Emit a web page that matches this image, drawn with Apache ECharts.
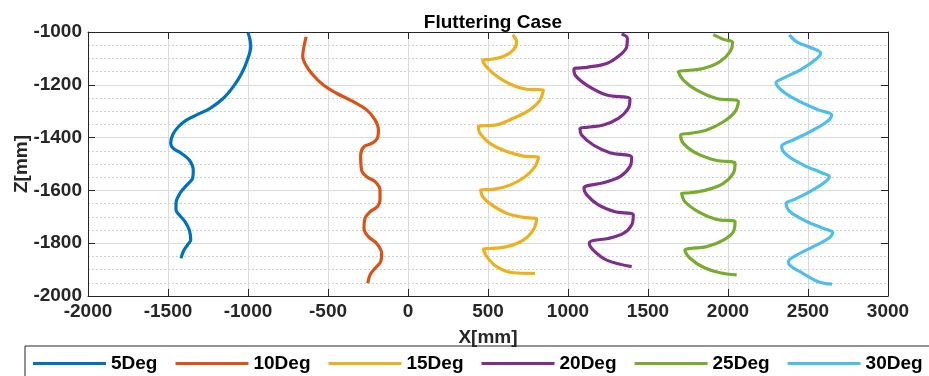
<!DOCTYPE html>
<html>
<head>
<meta charset="utf-8">
<script src="https://cdn.jsdelivr.net/npm/echarts@6/dist/echarts.min.js"></script>
<style>
html,body{margin:0;padding:0;background:#fff;}
#chart{width:929px;height:376px;}
</style>
</head>
<body>
<div id="chart"></div>
<script>
const seriesNames = ['5Deg','10Deg','15Deg','20Deg','25Deg','30Deg'];
const xRange = [-2000, 3000, 500];
const zRange = [-2000, -1000, 200];

const deg5 = [[-1000,-1003],[-987,-1030],[-983,-1056],[-1004,-1106],[-1040,-1157],[-1092,-1207],[-1154,-1251],[-1237,-1289],[-1321,-1314],[-1383,-1333],[-1435,-1359],[-1471,-1390],[-1483,-1422],[-1467,-1441],[-1415,-1460],[-1367,-1485],[-1342,-1523],[-1346,-1554],[-1383,-1580],[-1425,-1611],[-1450,-1649],[-1450,-1674],[-1429,-1693],[-1394,-1718],[-1367,-1750],[-1358,-1788],[-1371,-1801],[-1400,-1826],[-1419,-1857]];

const deg10 = [[-637,-1018],[-654,-1068],[-658,-1093],[-644,-1119],[-602,-1157],[-529,-1201],[-446,-1232],[-342,-1264],[-258,-1295],[-206,-1333],[-185,-1371],[-192,-1403],[-227,-1422],[-275,-1434],[-296,-1466],[-290,-1523],[-258,-1548],[-206,-1567],[-175,-1598],[-175,-1636],[-192,-1662],[-237,-1681],[-269,-1706],[-275,-1744],[-248,-1775],[-196,-1801],[-165,-1838],[-171,-1870],[-206,-1895],[-237,-1920],[-252,-1952]];

const deg15 = [[654,-1011],[679,-1037],[658,-1068],[596,-1093],[512,-1104],[467,-1106],[481,-1125],[533,-1157],[637,-1197],[742,-1217],[846,-1220],[825,-1258],[762,-1295],[658,-1327],[554,-1352],[440,-1359],[450,-1384],[512,-1422],[617,-1453],[721,-1470],[815,-1475],[794,-1510],[731,-1548],[637,-1580],[533,-1596],[454,-1598],[467,-1624],[523,-1655],[617,-1687],[721,-1702],[804,-1710],[783,-1750],[721,-1788],[617,-1813],[512,-1820],[471,-1822],[492,-1851],[554,-1889],[658,-1912],[794,-1914]];

const deg20 = [[1335,-1008],[1371,-1024],[1367,-1056],[1325,-1087],[1242,-1119],[1117,-1134],[1037,-1141],[1044,-1163],[1117,-1201],[1242,-1239],[1387,-1254],[1377,-1289],[1315,-1327],[1221,-1352],[1117,-1361],[1075,-1366],[1085,-1390],[1158,-1428],[1262,-1457],[1398,-1475],[1387,-1510],[1325,-1548],[1221,-1571],[1117,-1583],[1100,-1592],[1117,-1617],[1190,-1655],[1294,-1681],[1408,-1693],[1398,-1731],[1346,-1763],[1252,-1782],[1158,-1790],[1133,-1800],[1158,-1826],[1242,-1864],[1398,-1889]];

const deg25 = [[1908,-1010],[1971,-1028],[2029,-1040],[2013,-1074],[1950,-1112],[1846,-1138],[1742,-1146],[1690,-1150],[1721,-1182],[1804,-1220],[1929,-1252],[2065,-1264],[2044,-1302],[1971,-1340],[1867,-1371],[1763,-1384],[1704,-1390],[1721,-1422],[1804,-1460],[1929,-1487],[2044,-1497],[2033,-1535],[1971,-1573],[1867,-1598],[1763,-1609],[1710,-1611],[1731,-1643],[1815,-1681],[1929,-1710],[2044,-1719],[2033,-1757],[1971,-1788],[1867,-1813],[1763,-1820],[1731,-1826],[1763,-1857],[1846,-1891],[1950,-1912],[2054,-1920]];

const deg30 = [[2383,-1011],[2429,-1037],[2512,-1058],[2579,-1081],[2544,-1106],[2450,-1144],[2346,-1175],[2300,-1192],[2346,-1226],[2450,-1264],[2565,-1295],[2648,-1314],[2617,-1340],[2512,-1378],[2408,-1409],[2335,-1434],[2367,-1466],[2471,-1504],[2585,-1533],[2633,-1548],[2596,-1573],[2492,-1611],[2408,-1636],[2363,-1649],[2388,-1681],[2492,-1718],[2596,-1744],[2654,-1760],[2627,-1782],[2533,-1813],[2429,-1845],[2377,-1870],[2390,-1885],[2470,-1915],[2560,-1945],[2610,-1953],[2650,-1955]];

const allData = [deg5, deg10, deg15, deg20, deg25, deg30];
const colors = ['#0072BD','#D95319','#EDB120','#7E2F8E','#77AC30','#4DBEEE'];

const FONT = '"Liberation Sans", Arial, sans-serif';
const AX = '#262626';
const plainNum = function (v) { return String(v); };
const labelStyle = {color: AX, fontWeight: 'bold', fontSize: 19, fontFamily: FONT, formatter: plainNum};

const chart = echarts.init(document.getElementById('chart'), null, {renderer: 'canvas'});
chart.setOption({
  animation: false,
  backgroundColor: '#ffffff',
  color: colors,
  title: {
    text: 'Fluttering Case',
    left: 488, top: 8, textAlign: 'center',
    textStyle: {color: '#000', fontWeight: 'bold', fontSize: 19, fontFamily: FONT}
  },
  grid: {left: 88, right: 41, top: 32, bottom: 80, containLabel: false},
  legend: {
    data: seriesNames,
    left: 25, top: 346, width: 1100,
    orient: 'horizontal',
    icon: 'rect',
    itemWidth: 73, itemHeight: 3, itemGap: 18,
    borderColor: AX, borderWidth: 1, borderRadius: 0,
    padding: [8, 30, 20, 8],
    textStyle: {color: '#000', fontWeight: 'bold', fontSize: 19, fontFamily: FONT}
  },
  xAxis: [{
    type: 'value', min: xRange[0], max: xRange[1], interval: xRange[2],
    position: 'bottom',
    name: 'X[mm]', nameLocation: 'middle', nameGap: 32, nameMoveOverlap: false,
    nameTextStyle: {color: AX, fontWeight: 'bold', fontSize: 19, fontFamily: FONT},
    axisLine: {show: true, onZero: false, lineStyle: {color: AX, width: 1}},
    axisTick: {show: true, inside: true, length: 7, lineStyle: {color: AX}},
    axisLabel: Object.assign({margin: 6}, labelStyle),
    splitLine: {show: true, lineStyle: {color: '#dadada', width: 1}}
  }, {
    type: 'value', min: xRange[0], max: xRange[1], interval: xRange[2],
    position: 'top',
    axisLine: {show: true, onZero: false, lineStyle: {color: AX, width: 1}},
    axisTick: {show: true, inside: true, length: 7, lineStyle: {color: AX}},
    axisLabel: {show: false},
    splitLine: {show: false}
  }],
  yAxis: [{
    type: 'value', min: zRange[0], max: zRange[1], interval: zRange[2],
    position: 'left',
    name: 'Z[mm]', nameLocation: 'middle', nameGap: 57, nameRotate: 90, nameMoveOverlap: false,
    nameTextStyle: {color: AX, fontWeight: 'bold', fontSize: 19, fontFamily: FONT},
    axisLine: {show: true, onZero: false, lineStyle: {color: AX, width: 1}},
    axisTick: {show: true, inside: true, length: 7, lineStyle: {color: AX}},
    axisLabel: Object.assign({margin: 6}, labelStyle),
    splitLine: {show: true, lineStyle: {color: '#dadada', width: 1}},
    minorTick: {show: false, splitNumber: 4},
    minorSplitLine: {show: true, lineStyle: {color: '#cfcfcf', width: 1, type: [2, 2]}}
  }, {
    type: 'value', min: zRange[0], max: zRange[1], interval: zRange[2],
    position: 'right',
    axisLine: {show: true, onZero: false, lineStyle: {color: AX, width: 1}},
    axisTick: {show: true, inside: true, length: 7, lineStyle: {color: AX}},
    axisLabel: {show: false},
    splitLine: {show: false}
  }],
  series: seriesNames.map(function (name, i) {
    return {
      name: name,
      type: 'line',
      xAxisIndex: 0, yAxisIndex: 0,
      data: allData[i],
      showSymbol: false,
      symbol: 'none',
      smooth: 0.35,
      lineStyle: {width: 3.2, color: colors[i]},
      itemStyle: {color: colors[i]},
      z: 3
    };
  })
});
</script>
</body>
</html>
